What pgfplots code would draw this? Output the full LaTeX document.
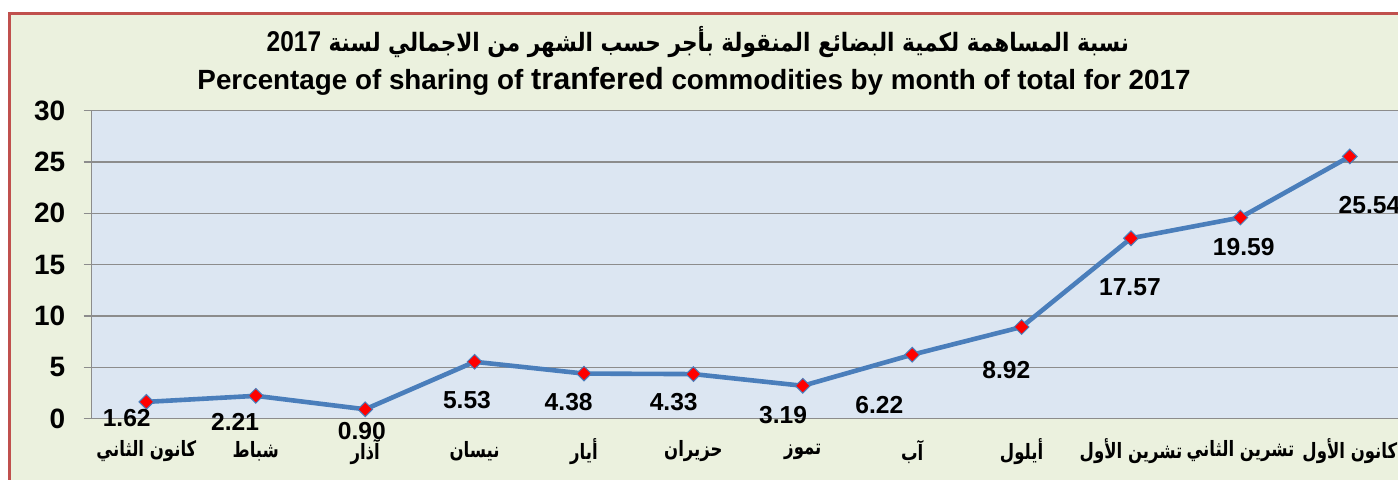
\documentclass[border=0pt]{standalone}
\usepackage{pgfplots}
\pgfplotsset{compat=1.18}
\usepackage{fontspec}
\setmainfont{Liberation Sans}
\newfontfamily\arabicfont[Script=Arabic]{DejaVu Sans}
\TeXXeTstate=1
\definecolor{frameBg}{RGB}{235,241,222}
\definecolor{plotBg}{RGB}{220,230,242}
\definecolor{frameRed}{RGB}{192,80,77}
\definecolor{lineBlue}{RGB}{74,126,187}
\definecolor{gridGray}{RGB}{140,140,140}

\pgfplotstableread{
x y
0 1.62
1 2.21
2 0.90
3 5.53
4 4.38
5 4.33
6 3.19
7 6.22
8 8.92
9 17.57
10 19.59
11 25.54
}\datatable

\pgfplotstableread{
x y lab
-0.18 0.05 1.62
0.81 -0.31 2.21
1.97 -1.22 0.90
2.93 1.80 5.53
3.86 1.61 4.38
4.82 1.61 4.33
5.82 0.34 3.19
6.70 1.32 6.22
7.86 4.73 8.92
8.99 12.82 17.57
10.03 16.71 19.59
11.18 20.81 25.54
}\labeltable

\begin{document}
\begin{tikzpicture}[x=1pt,y=1pt]
\useasboundingbox (0,0) rectangle (699,-239.5);
\clip (0,0) rectangle (699,-239.5);
\fill[frameBg] (4.5,-6.5) rectangle (720,-260);
\draw[frameRed,line width=1.5pt] (4.5,-6.5) rectangle (720,-260);
\node[inner sep=0pt] at (349,-21) {\scalebox{0.94}[1.1]{\arabicfont\bfseries\fontsize{11.5}{11.5}\selectfont\beginR نسبة المساهمة لكمية البضائع المنقولة بأجر حسب الشهر من الاجمالي لسنة \beginL{\rmfamily\bfseries\fontsize{13}{13}\selectfont 2017}\endL\endR}};
\node[inner sep=0pt] at (347,-40.5) {\bfseries\fontsize{13.9}{13.9}\selectfont Percentage of sharing of {\fontsize{15.3}{15.3}\selectfont tranfered} commodities by month of total for 2017};
\begin{axis}[
  at={(45.85pt,-209.25pt)}, anchor=south west,
  scale only axis, width=656.4pt, height=153.9pt,
  xmin=-0.5, xmax=11.5, ymin=0, ymax=30,
  axis background/.style={fill=plotBg},
  axis x line*=bottom, axis y line*=left,
  axis line style={gridGray, line width=0.6pt},
  ytick={0,5,...,30},
  ymajorgrids, major grid style={gridGray, line width=0.6pt},
  xtick={0,...,11},
  xticklabels={
    {\arabicfont\beginR كانون الثاني\endR},
    {\arabicfont\beginR شباط\endR},
    {\arabicfont\beginR آذار\endR},
    {\arabicfont\beginR نيسان\endR},
    {\arabicfont\beginR أيار\endR},
    {\arabicfont\beginR حزيران\endR},
    {\arabicfont\beginR تموز\endR},
    {\arabicfont\beginR آب\endR},
    {\arabicfont\beginR أيلول\endR},
    {\arabicfont\beginR تشرين الأول\endR},
    {\arabicfont\beginR تشرين الثاني\endR},
    {\arabicfont\beginR كانون الأول\endR}},
  minor xtick={-0.5,0.5,...,11.5},
  xtick style={draw=none},
  minor x tick style={gridGray, line width=0.6pt},
  ytick style={gridGray, line width=0.6pt},
  tick align=outside, major tick length=4pt, minor tick length=3.5pt,
  /pgf/number format/assume math mode=true,
  yticklabel style={font=\bfseries\fontsize{14}{14}\selectfont, anchor=east, inner sep=0pt, xshift=-9pt},
  xticklabel style={font=\bfseries\fontsize{9.6}{9.6}\selectfont, anchor=center, inner sep=0pt, yshift=-12.5pt, xscale=0.86, yscale=1.1},
  clip=false,
]
\addplot[lineBlue, line width=2.3pt, mark=square*, mark size=2.6pt,
  mark options={rotate=45, fill=red, draw=lineBlue, line width=0.5pt}] table[x=x,y=y] {\datatable};
\addplot[draw=none, mark=none, nodes near coords, point meta=explicit symbolic,
  every node near coord/.append style={anchor=center, inner sep=0pt, font=\bfseries\fontsize{12.3}{12.3}\selectfont, text=black}]
  table[x=x,y=y,meta=lab] {\labeltable};
\end{axis}
\end{tikzpicture}
\end{document}
